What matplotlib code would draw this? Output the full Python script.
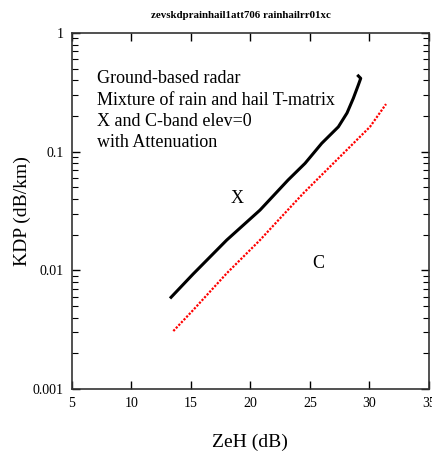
import numpy as np
import matplotlib
matplotlib.use("Agg")
import matplotlib.pyplot as plt
from matplotlib.ticker import LogLocator, NullFormatter, FixedLocator

plt.rcParams['font.family'] = ['Liberation Serif', 'DejaVu Serif']

# X-band curve (ZeH dB, KDP dB/km)
zeh_x = [13.33, 15.18, 18.01, 20.81, 23.17, 24.60, 26.00, 27.40,
         28.13, 28.66, 29.08, 29.28, 29.08]
kdp_x = [0.00593, 0.0093, 0.0180, 0.0322, 0.0577, 0.0798, 0.1176, 0.162,
         0.212, 0.282, 0.365, 0.415, 0.435]

# C-band curve
zeh_c = [13.52, 15.20, 18.01, 20.81, 22.49, 24.45, 27.26, 30.06, 31.41]
kdp_c = [0.00308, 0.00464, 0.00944, 0.0180, 0.0274, 0.0446, 0.0851, 0.162, 0.252]

title = "zevskdprainhail1att706 rainhailrr01xc"
notes = ["Ground-based radar",
         "Mixture of rain and hail T-matrix",
         "X and C-band elev=0",
         "with Attenuation"]

fig = plt.figure(figsize=(4.32, 4.55), dpi=100)
ax = fig.add_axes([0.1667, 0.145, 0.8257, 0.7824])

ax.plot(zeh_x, kdp_x, color='black', lw=2.2, solid_joinstyle='round')
ax.plot(zeh_c, kdp_c, color='red', lw=1.6, linestyle=(0, (1, 0.7)))

ax.set_yscale('log')
ax.set_xlim(5, 35)
ax.set_ylim(0.001, 1)

ax.xaxis.set_major_locator(FixedLocator([5, 10, 15, 20, 25, 30, 35]))
ax.set_yticks([0.001, 0.01, 0.1, 1])
ax.set_yticklabels(['0.001', '0.01', '0.1', '1'])
ax.yaxis.set_minor_locator(LogLocator(base=10, subs=np.arange(2, 10)))
ax.yaxis.set_minor_formatter(NullFormatter())

ax.tick_params(axis='both', which='major', direction='in', length=6, width=1,
               top=True, right=True, labelsize=10, pad=6)
ax.tick_params(axis='y', which='minor', direction='in', length=4, width=0.8, right=True)
ax.tick_params(axis='x', which='minor', bottom=False, top=False)
for s in ax.spines.values():
    s.set_linewidth(1.2)
    s.set_color('#333333')

ax.set_xlabel("ZeH (dB)", fontsize=14, labelpad=17)
ax.set_ylabel("KDP (dB/km)", fontsize=14, labelpad=1)
fig.text(0.557, 0.967, title, ha='center', va='center', fontsize=7.8, fontweight='bold')

for i, line in enumerate(notes):
    ax.text(7.1, 10 ** (-0.385 - i * 0.18), line, fontsize=13, va='center', ha='left')
ax.text(18.9, 0.040, "X", fontsize=13, ha='center', va='center')
ax.text(25.7, 0.0115, "C", fontsize=13, ha='center', va='center')

fig.savefig("out.png", dpi=100)
